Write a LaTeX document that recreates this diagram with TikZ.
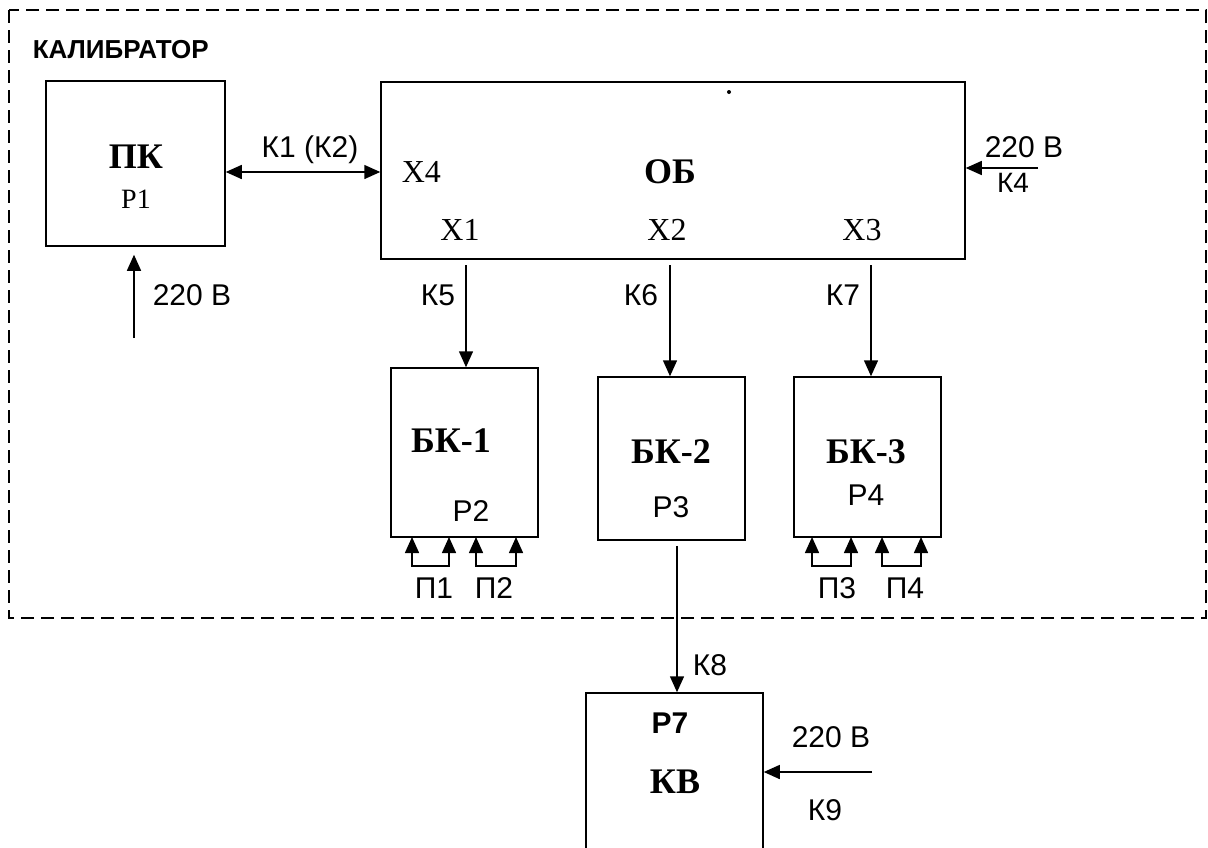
\documentclass[tikz,border=0pt]{standalone}
\usepackage{fontspec}
\setmainfont{Liberation Serif}
\newfontfamily\arialfont{Liberation Sans}
\usetikzlibrary{arrows.meta}

\tikzset{
  blk/.style={draw,rectangle,inner sep=0pt},
  lbl/.style={font=\arialfont\fontsize{15}{18}\selectfont,inner sep=0pt},
  ttl/.style={font=\bfseries\fontsize{18}{21}\selectfont,inner sep=0pt},
  xlbl/.style={font=\fontsize{16}{19}\selectfont,inner sep=0pt}
}

\begin{document}
\begin{tikzpicture}[x=0.5pt,y=-0.5pt,line width=0.75pt,>={Triangle[length=8pt,width=7pt]}]
\clip (0,0) rectangle (1208,847);
\useasboundingbox (0,0) rectangle (1208,847);

% frame of the calibrator
\draw[dash pattern=on 6.5pt off 3.5pt] (9,10) rectangle (1206,618);
\node[font=\arialfont\bfseries\fontsize{13}{16}\selectfont,anchor=west,inner sep=0pt] (kal) at (32,50) {КАЛИБРАТОР};

% blocks
\node[blk,minimum width=89.5pt,minimum height=82.5pt] (pk) at (135.5,163.5) {};
\node[blk,minimum width=292pt,minimum height=88.5pt] (ob) at (673,170.5) {};
\node[blk,minimum width=73.5pt,minimum height=84.5pt] (bk1) at (464.5,452.5) {};
\node[blk,minimum width=73.5pt,minimum height=81.5pt] (bk2) at (671.5,458.5) {};
\node[blk,minimum width=73.5pt,minimum height=80pt] (bk3) at (867.5,457) {};
\node[blk,minimum width=88.5pt,minimum height=95pt] (kv) at (674.5,788) {};

\node[ttl] (pkname) at (136,157) {ПК};
\node[font=\fontsize{14}{17}\selectfont,inner sep=0pt] (p1) at (136,199) {Р1};
\node[ttl] (obname) at (670,172) {ОБ};
\node[xlbl,anchor=west] (x4) at (401,172) {Х4};
\node[xlbl] (x1) at (460,230) {Х1};
\node[xlbl] (x2) at (667,230) {Х2};
\node[xlbl] (x3) at (862,230) {Х3};
\fill (729,92) circle (1pt);

\node[ttl] (bk1name) at (451,441) {БК-1};
\node[lbl] (p2) at (471,511) {Р2};
\node[ttl] (bk2name) at (671,452) {БК-2};
\node[lbl] (p3) at (671,507) {Р3};
\node[ttl] (bk3name) at (866,452) {БК-3};
\node[lbl] (p4) at (866,495) {Р4};

\node[font=\arialfont\bfseries\fontsize{15}{18}\selectfont,inner sep=0pt] (p7) at (670,723) {Р7};
\node[ttl] (kvname) at (675,782) {КВ};

% links
\coordinate (k1y) at (0,172);
\draw[<->] (pk.east |- k1y) -- (ob.west |- k1y);
\node[lbl] (k1) at (310,150) {К1 (К2)};

\coordinate (pw1) at (134,338);
\draw[->,shorten >=4pt] (pw1) -- (pw1 |- pk.south);
\node[lbl,anchor=west] (pw1lbl) at (152,295) {220 В};

\coordinate (pw2) at (1038,168);
\draw[->] (pw2) -- (pw2 -| ob.east);
\node[lbl] (pw2lbl) at (1024,147) {220 В};
\node[font=\arialfont\fontsize{14}{17}\selectfont,inner sep=0pt] (k4) at (1013,183) {К4};

\coordinate (out1) at (466,265);
\coordinate (out2) at (670,265);
\coordinate (out3) at (871,265);
\draw[->] (out1) -- (out1 |- bk1.north);
\draw[->] (out2) -- (out2 |- bk2.north);
\draw[->] (out3) -- (out3 |- bk3.north);
\node[lbl] (k5) at (438,295) {К5};
\node[lbl] (k6) at (641,295) {К6};
\node[lbl] (k7) at (843,295) {К7};

% probes
\foreach \a/\b in {412/449, 476/516, 812/851, 882/921}{
  \draw[<->] (\a,537) -- (\a,566) -- (\b,566) -- (\b,537);
}
\node[lbl] (pr1) at (434,588) {П1};
\node[lbl] (pr2) at (494,588) {П2};
\node[lbl] (pr3) at (837,588) {П3};
\node[lbl] (pr4) at (905,588) {П4};

\coordinate (k8x) at (677,0);
\draw[->] (k8x |- bk2.south) ++(0,5) -- (k8x |- kv.north);
\node[lbl] (k8) at (710,665) {К8};

\coordinate (pw3) at (872,772);
\draw[->] (pw3) -- (pw3 -| kv.east);
\node[lbl] (pw3lbl) at (831,737) {220 В};
\node[lbl] (k9) at (825,810) {К9};
\end{tikzpicture}
\end{document}
